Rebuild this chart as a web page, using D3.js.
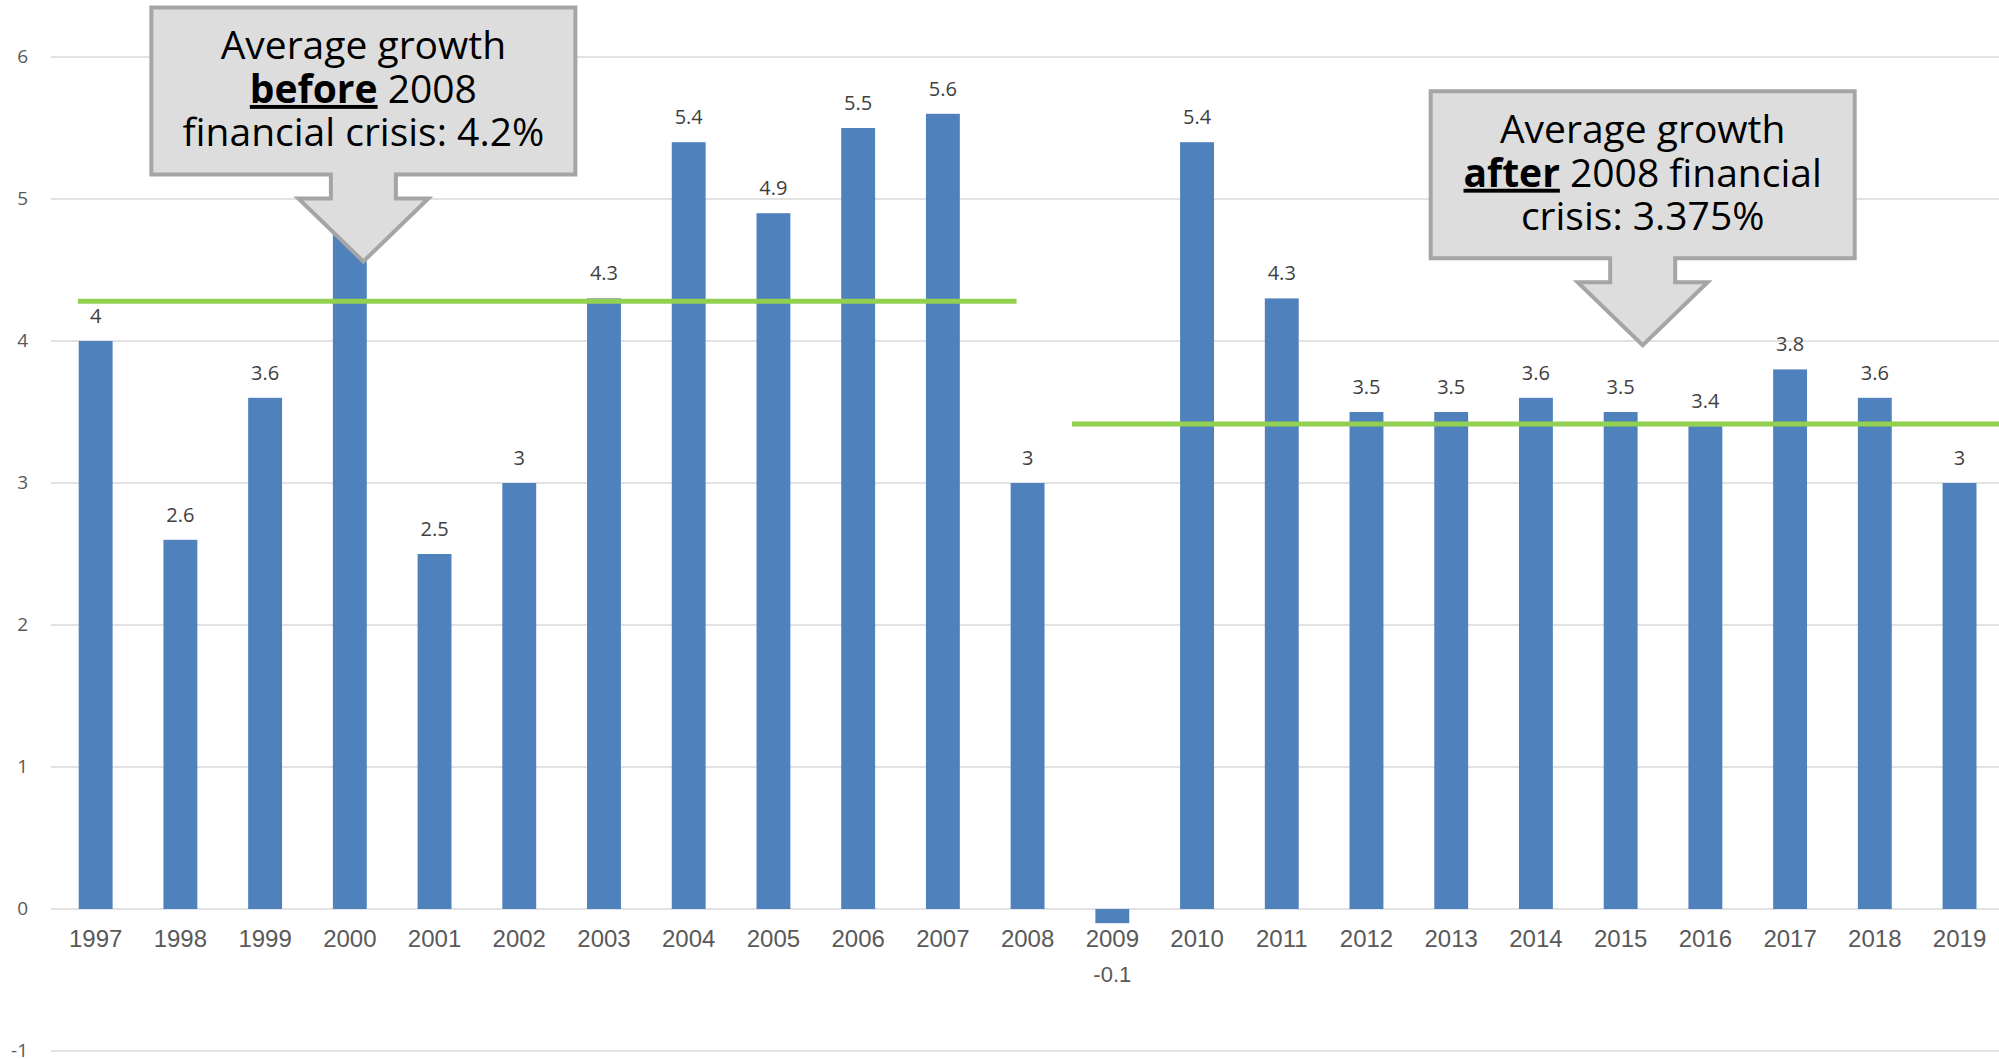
<!DOCTYPE html>
<html>
<head>
<meta charset="utf-8">
<script src="https://cdn.jsdelivr.net/npm/d3@7"></script>
<style>
  html, body { margin: 0; padding: 0; background: #ffffff; }
  svg { display: block; }
</style>
</head>
<body>
<svg id="chart" width="1999" height="1059"></svg>
<script>
// ---- data ----
const years = ["1997","1998","1999","2000","2001","2002","2003","2004","2005","2006","2007","2008",
               "2009","2010","2011","2012","2013","2014","2015","2016","2017","2018","2019"];
const growth = [4, 2.6, 3.6, 4.8, 2.5, 3, 4.3, 5.4, 4.9, 5.5, 5.6, 3,
                -0.1, 5.4, 4.3, 3.5, 3.5, 3.6, 3.5, 3.4, 3.8, 3.6, 3];
const yTicks = [-1, 0, 1, 2, 3, 4, 5, 6];
// average lines as drawn: value, start/end in year-index units
const avgValues = [4.28, 3.415];
const avgFrom = [-0.21, 11.525];
const avgTo = [10.87, 22.47];
// callouts: arrow tip position (year index, value) and text lines
const calloutTipIdx = [3.16, 18.26];
const calloutTipVal = [4.56, 3.97];
const calloutLines = [
  [[["Average growth", false]], [["before", true], [" 2008", false]], [["financial crisis: 4.2%", false]]],
  [[["Average growth", false]], [["after", true], [" 2008 financial", false]], [["crisis: 3.375%", false]]]
];

// ---- layout ----
const svg = d3.select("#chart");
const x = d3.scaleBand().domain(years).range([53.3, 2001.9]).paddingInner(0.6).paddingOuter(0.3);
const y = d3.scaleLinear().domain([-1, 6]).range([1051, 57]);
const xIdx = d3.scaleLinear().domain([0, years.length - 1])
  .range([x(years[0]) + x.bandwidth() / 2, x(years[years.length - 1]) + x.bandwidth() / 2]);

// gridlines
svg.append("g").selectAll("line").data(yTicks).join("line")
  .attr("x1", 51).attr("x2", 1999)
  .attr("y1", d => y(d)).attr("y2", d => y(d))
  .attr("stroke", "#d9d9d9").attr("stroke-width", 1.5);

// y tick labels
svg.append("g").selectAll("text").data(yTicks).join("text")
  .attr("x", 28).attr("y", d => y(d) + 6)
  .attr("text-anchor", "end")
  .attr("font-family", "'Open Sans', sans-serif").attr("font-size", 19)
  .attr("fill", "#595959")
  .text(d => d);

// bars
svg.append("g").selectAll("rect").data(growth).join("rect")
  .attr("x", (d, i) => x(years[i]))
  .attr("width", x.bandwidth())
  .attr("y", d => y(Math.max(0, d)))
  .attr("height", d => Math.abs(y(d) - y(0)))
  .attr("fill", "#4f81bd");

// x labels
svg.append("g").selectAll("text").data(years).join("text")
  .attr("x", d => x(d) + x.bandwidth() / 2)
  .attr("y", 947)
  .attr("text-anchor", "middle")
  .attr("font-family", "'Liberation Sans', Arial, sans-serif").attr("font-size", 24)
  .attr("fill", "#595959")
  .text(d => d);

// value labels
svg.append("g").selectAll("text").data(growth).join("text")
  .attr("x", (d, i) => x(years[i]) + x.bandwidth() / 2)
  .attr("y", d => d >= 0 ? y(d) - 18 : 982)
  .attr("text-anchor", "middle")
  .attr("font-family", d => d >= 0 ? "'Open Sans', sans-serif" : "'Liberation Sans', Arial, sans-serif")
  .attr("font-size", d => d >= 0 ? 20 : 22)
  .attr("fill", d => d >= 0 ? "#404040" : "#595959")
  .text(d => d);

// average lines
svg.append("g").selectAll("line").data(avgValues).join("line")
  .attr("x1", (d, i) => xIdx(avgFrom[i]))
  .attr("x2", (d, i) => xIdx(avgTo[i]))
  .attr("y1", d => y(d)).attr("y2", d => y(d))
  .attr("stroke", "#92d050").attr("stroke-width", 5);

// callouts
const boxW = 424, boxH = 167, stemW = 65, stemH = 24, headW = 130, headH = 63;
calloutTipIdx.forEach((ti, k) => {
  const tx = xIdx(ti), ty = y(calloutTipVal[k]);
  const top = ty - headH - stemH - boxH;
  const left = tx - boxW / 2;
  const p = d3.path();
  p.moveTo(left, top);
  p.lineTo(left + boxW, top);
  p.lineTo(left + boxW, top + boxH);
  p.lineTo(tx + stemW / 2, top + boxH);
  p.lineTo(tx + stemW / 2, top + boxH + stemH);
  p.lineTo(tx + headW / 2, top + boxH + stemH);
  p.lineTo(tx, ty);
  p.lineTo(tx - headW / 2, top + boxH + stemH);
  p.lineTo(tx - stemW / 2, top + boxH + stemH);
  p.lineTo(tx - stemW / 2, top + boxH);
  p.lineTo(left, top + boxH);
  p.closePath();
  const g = svg.append("g");
  g.append("path").attr("d", p.toString())
    .attr("fill", "#dddddd").attr("stroke", "#a5a5a5").attr("stroke-width", 4)
    .attr("stroke-linejoin", "miter");
  const t = g.append("text")
    .attr("text-anchor", "middle")
    .attr("font-family", "'Open Sans', sans-serif").attr("font-size", 39)
    .attr("fill", "#000000");
  calloutLines[k].forEach((line, li) => {
    const tl = t.append("tspan").attr("x", tx).attr("y", top + 52 + li * 43.5);
    line.forEach(([txt, em]) => {
      const s = tl.append("tspan").text(txt);
      if (em) s.attr("font-weight", "bold").style("text-decoration", "underline");
    });
  });
});
</script>
</body>
</html>
